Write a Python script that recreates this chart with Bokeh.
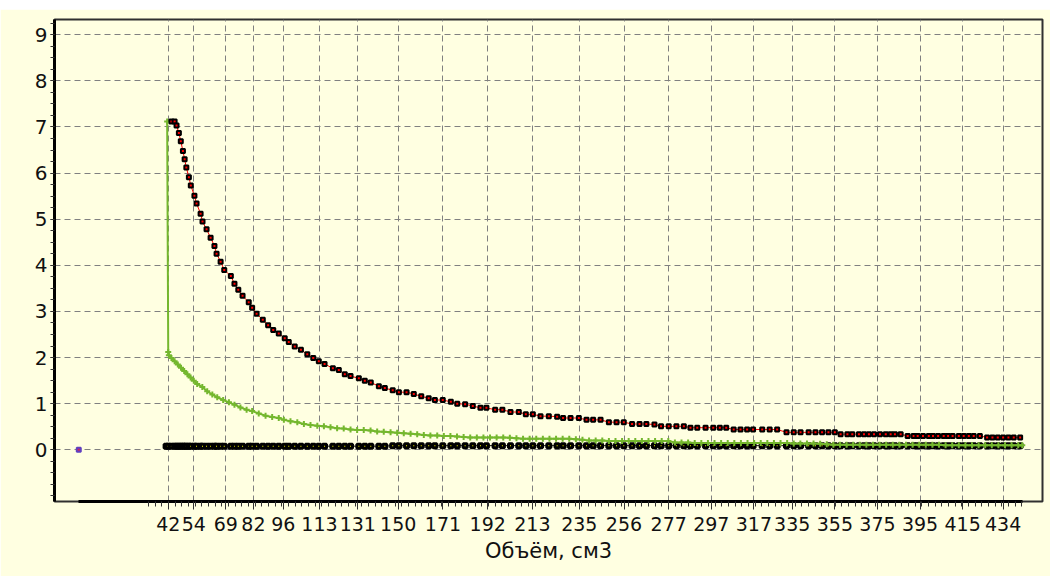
from bokeh.plotting import figure
from bokeh.models import FixedTicker, LinearAxis, Range1d, Grid, Div
from bokeh.layouts import column
from bokeh.embed import file_html
from bokeh.resources import INLINE
import numpy as np

# ---------------- data ----------------
x_ticks = [42, 54, 69, 82, 96, 113, 131, 150, 171, 192, 213, 235, 256, 277,
           297, 317, 335, 355, 375, 395, 415, 434]
y_ticks = [0, 1, 2, 3, 4, 5, 6, 7, 8, 9]
x_title = "Объём, см3"

# red series (expansion curve), volume / pressure
red_v = [43.5, 45.0, 45.9, 47.0, 47.9, 48.9, 49.7, 50.5, 51.7, 52.6,
         54.3, 55.3, 57.2, 58.1, 60.0, 61.9, 63.7, 64.7, 66.6, 68.3,
         71.4, 73.1, 74.9, 76.9, 79.8, 81.4, 83.5, 86.4, 88.9, 91.3,
         93.9, 96.7, 98.6, 101.4, 104.3, 107.3, 110.1, 112.7, 115.4, 119.3,
         122.1, 124.9, 127.6, 131.5, 134.3, 137.1, 140.9, 143.7, 147.4, 150.3,
         153.9, 157.3, 160.8, 164.3, 167.2, 170.9, 174.7, 177.7, 181.4, 185.0,
         188.6, 191.4, 195.5, 198.9, 202.7, 206.6, 209.9, 213.2, 216.8, 220.7,
         224.6, 227.4, 230.9, 234.8, 238.4, 241.5, 245.0, 248.9, 252.5, 255.9,
         259.8, 263.3, 266.5, 270.3, 273.4, 277.0, 280.6, 284.1, 287.2, 290.4,
         294.3, 297.9, 301.0, 304.0, 307.5, 310.7, 313.8, 316.6, 320.9, 324.4,
         327.9, 332.3, 335.7, 338.9, 342.7, 345.9, 349.0, 352.0, 355.0, 357.7,
         360.9, 363.2, 366.3, 368.7, 371.0, 373.4, 376.2, 378.9, 381.2, 383.2,
         385.9, 389.2, 392.0, 393.9, 396.4, 399.1, 401.1, 403.5, 406.1, 408.2,
         410.3, 413.2, 415.5, 417.9, 420.2, 423.1, 426.5, 429.0, 431.5, 434.0,
         436.5, 439.0, 442.0]
red_p = [7.12, 7.12, 7.03, 6.87, 6.69, 6.48, 6.30, 6.12, 5.91, 5.73,
         5.51, 5.34, 5.12, 4.95, 4.78, 4.60, 4.42, 4.25, 4.08, 3.90,
         3.77, 3.60, 3.47, 3.34, 3.20, 3.08, 2.95, 2.82, 2.70, 2.60,
         2.52, 2.42, 2.34, 2.24, 2.17, 2.07, 1.99, 1.92, 1.86, 1.77,
         1.73, 1.64, 1.60, 1.55, 1.50, 1.46, 1.38, 1.34, 1.29, 1.25,
         1.25, 1.21, 1.16, 1.12, 1.08, 1.08, 1.04, 1.00, 0.99, 0.95,
         0.91, 0.91, 0.87, 0.87, 0.82, 0.82, 0.77, 0.77, 0.73, 0.73,
         0.72, 0.69, 0.69, 0.69, 0.65, 0.65, 0.65, 0.60, 0.60, 0.60,
         0.56, 0.56, 0.56, 0.55, 0.51, 0.51, 0.51, 0.51, 0.48, 0.48,
         0.48, 0.48, 0.48, 0.48, 0.44, 0.44, 0.44, 0.44, 0.44, 0.44,
         0.44, 0.38, 0.38, 0.38, 0.38, 0.38, 0.38, 0.38, 0.38, 0.34,
         0.34, 0.34, 0.34, 0.34, 0.34, 0.34, 0.34, 0.34, 0.34, 0.34,
         0.34, 0.30, 0.30, 0.30, 0.30, 0.30, 0.30, 0.30, 0.30, 0.30,
         0.30, 0.30, 0.30, 0.30, 0.30, 0.30, 0.27, 0.27, 0.27, 0.27,
         0.27, 0.27, 0.27]

# green series (theoretical curve)
green_v = [41.5, 42.0, 42.3, 43.5, 45.0, 46.5, 48.0, 49.5, 51.0, 52.5,
           54.0, 55.6, 58.0, 60.3, 62.7, 65.0, 67.8, 70.5, 73.1, 75.9,
           78.8, 81.4, 84.5, 87.7, 90.8, 93.9, 96.3, 99.4, 102.6, 105.7,
           108.8, 112.0, 115.1, 118.2, 121.3, 124.4, 127.6, 130.7, 133.8, 137.0,
           140.1, 143.2, 146.4, 149.5, 152.6, 155.8, 158.9, 162.0, 165.1, 168.3,
           171.4, 174.5, 177.6, 180.7, 183.8, 186.9, 190.0, 193.1, 196.2, 199.3,
           202.4, 205.5, 208.6, 211.7, 214.8, 217.9, 221.0, 224.1, 227.2, 230.3,
           233.4, 236.5, 239.6, 242.7, 245.8, 248.9, 252.0, 255.1, 258.2, 261.3,
           264.4, 267.5, 270.6, 273.7, 276.8, 279.9, 283.0, 286.1, 289.2, 292.3,
           295.4, 298.5, 301.6, 304.7, 307.8, 310.9, 314.0, 317.1, 320.2, 323.3,
           326.4, 329.5, 332.6, 335.7, 338.8, 341.9, 345.0, 348.1, 351.2, 354.3,
           357.4, 360.5, 363.6, 366.7, 369.8, 372.9, 376.0, 379.1, 382.2, 385.3,
           388.4, 391.5, 394.6, 397.7, 400.8, 403.9, 407.0, 410.1, 413.2, 416.3,
           419.4, 422.5, 425.6, 428.7, 431.8, 434.9, 438.0, 441.1, 443.0]
green_p = [7.12, 2.12, 2.05, 1.99, 1.92, 1.85, 1.78, 1.71, 1.64, 1.57,
           1.50, 1.43, 1.36, 1.27, 1.20, 1.14, 1.08, 1.03, 0.98, 0.92,
           0.87, 0.84, 0.79, 0.74, 0.71, 0.69, 0.65, 0.62, 0.60, 0.56,
           0.54, 0.52, 0.51, 0.49, 0.47, 0.46, 0.44, 0.43, 0.43, 0.42,
           0.40, 0.39, 0.38, 0.37, 0.36, 0.35, 0.34, 0.32, 0.31, 0.31,
           0.30, 0.30, 0.29, 0.28, 0.27, 0.27, 0.27, 0.27, 0.27, 0.27,
           0.26, 0.25, 0.24, 0.24, 0.24, 0.24, 0.24, 0.24, 0.24, 0.24,
           0.23, 0.22, 0.20, 0.20, 0.20, 0.19, 0.19, 0.19, 0.19, 0.19,
           0.19, 0.19, 0.19, 0.19, 0.19, 0.16, 0.16, 0.16, 0.15, 0.15,
           0.15, 0.15, 0.15, 0.15, 0.15, 0.15, 0.15, 0.15, 0.15, 0.15,
           0.15, 0.15, 0.15, 0.14, 0.14, 0.14, 0.14, 0.13, 0.12, 0.11,
           0.11, 0.11, 0.11, 0.11, 0.11, 0.11, 0.11, 0.11, 0.11, 0.11,
           0.11, 0.11, 0.11, 0.11, 0.11, 0.11, 0.10, 0.10, 0.10, 0.10,
           0.10, 0.10, 0.10, 0.10, 0.10, 0.10, 0.10, 0.10, 0.10]

# black series (near-zero line), sampled at the same volumes as the red one
black_v = [41.0, 42.0] + red_v
black_p = [0.08, 0.08, 0.08, 0.08, 0.08, 0.08, 0.08, 0.08, 0.08, 0.08,
           0.08, 0.08, 0.08, 0.08, 0.08, 0.08, 0.08, 0.08, 0.08, 0.08,
           0.08, 0.08, 0.08, 0.08, 0.08, 0.08, 0.08, 0.08, 0.08, 0.08,
           0.08, 0.08, 0.08, 0.08, 0.08, 0.08, 0.08, 0.08, 0.08, 0.08,
           0.08, 0.08, 0.08, 0.08, 0.08, 0.08, 0.08, 0.08, 0.08, 0.08,
           0.09, 0.09, 0.09, 0.09, 0.09, 0.09, 0.09, 0.09, 0.09, 0.09,
           0.09, 0.09, 0.09, 0.09, 0.09, 0.09, 0.09, 0.09, 0.09, 0.09,
           0.09, 0.09, 0.09, 0.09, 0.09, 0.09, 0.09, 0.09, 0.09, 0.09,
           0.09, 0.09, 0.09, 0.09, 0.09, 0.09, 0.09, 0.09, 0.09, 0.09,
           0.09, 0.09, 0.09, 0.09, 0.09, 0.09, 0.09, 0.09, 0.09, 0.09,
           0.09, 0.09, 0.09, 0.09, 0.09, 0.09, 0.09, 0.09, 0.09, 0.09,
           0.09, 0.09, 0.09, 0.09, 0.09, 0.09, 0.09, 0.09, 0.09, 0.09,
           0.09, 0.09, 0.09, 0.09, 0.09, 0.09, 0.09, 0.09, 0.09, 0.09,
           0.09, 0.09, 0.09, 0.09, 0.09, 0.09, 0.09, 0.09, 0.09, 0.09,
           0.09, 0.09, 0.09, 0.09, 0.09]

# single point at the origin
origin_v = [0.0]
origin_p = [0.0]

# ---------------- styling ----------------
BG = "#FFFFE1"
FONT = "DejaVu Sans"
TXT = "#111111"
GREEN = "#74B72E"

p = figure(width=1050, height=567, output_backend="svg", toolbar_location=None,
           x_range=Range1d(-11.4, 452.5), y_range=Range1d(-1.12, 9.33),
           x_axis_type=None, y_axis_type=None,
           min_border_left=54, min_border_right=8, min_border_top=10,
           min_border_bottom=75)
p.background_fill_color = BG
p.border_fill_color = BG
p.outline_line_color = "#303030"
p.outline_line_width = 2

x_minor = np.arange(32.8, 444.0, 3.13).tolist()
y_minor = np.arange(-1.0, 9.3, 0.25).tolist()

all_v = origin_v + black_v + green_v + red_v
xaxis = LinearAxis(ticker=FixedTicker(ticks=x_ticks, minor_ticks=x_minor),
                   bounds=(min(all_v), max(all_v)))
xaxis.axis_line_width = 3
xaxis.axis_line_color = "black"
xaxis.major_tick_out = 8
xaxis.major_tick_in = 0
xaxis.minor_tick_out = 5
xaxis.minor_tick_in = 0
xaxis.major_tick_line_color = "#333333"
xaxis.minor_tick_line_color = "#333333"
xaxis.major_label_standoff = 7
xaxis.major_label_text_font = FONT
xaxis.major_label_text_font_size = "19px"
xaxis.major_label_text_color = TXT
xaxis.axis_label = x_title
xaxis.axis_label_text_font = FONT
xaxis.axis_label_text_font_size = "21px"
xaxis.axis_label_text_font_style = "normal"
xaxis.axis_label_text_color = TXT
xaxis.axis_label_standoff = 5
p.add_layout(xaxis, "below")

yaxis = LinearAxis(ticker=FixedTicker(ticks=y_ticks, minor_ticks=y_minor))
yaxis.axis_line_width = 3
yaxis.axis_line_color = "black"
yaxis.major_tick_out = 4
yaxis.major_tick_in = 0
yaxis.minor_tick_out = 4
yaxis.minor_tick_in = 0
yaxis.major_tick_line_color = "#333333"
yaxis.minor_tick_line_color = "#333333"
yaxis.major_label_standoff = 3
yaxis.major_label_text_font = FONT
yaxis.major_label_text_font_size = "20px"
yaxis.major_label_text_color = TXT
p.add_layout(yaxis, "left")

for dim, ax in ((0, xaxis), (1, yaxis)):
    g = Grid(dimension=dim, ticker=ax.ticker)
    g.grid_line_color = "#808080"
    g.grid_line_width = 1
    g.grid_line_dash = "6 4"
    p.add_layout(g)

# black series
p.line(black_v, black_p, line_color="black", line_width=1)
p.scatter(black_v, black_p, marker="square", size=4, fill_color="#FFFF00",
          line_color="black", line_width=3)

# green series
p.line(green_v, green_p, line_color=GREEN, line_width=2)
p.scatter(green_v, green_p, marker="cross", size=6, line_color=GREEN, line_width=2)

# red series
p.line(red_v, red_p, line_color="#FF0000", line_width=1)
p.scatter(red_v, red_p, marker="square", size=4, fill_color="#FF0000",
          line_color="black", line_width=2)

# origin point
p.scatter(origin_v, origin_p, marker="square", size=4, fill_color="#D02060",
          line_color="#6040C0", line_width=2)

# thin white strip with window-frame lines above the chart
strip = Div(
    text=('<div style="position:relative;width:1050px;height:9px;background:#ffffff;overflow:hidden;">'
          '<div style="position:absolute;left:7px;top:7px;width:626px;height:2px;background:#707070;"></div>'
          '<div style="position:absolute;left:696px;top:7px;width:162px;height:2px;background:#707070;"></div>'
          '</div>'),
    width=1050, height=9, margin=0)

layout = column(strip, p, spacing=0, margin=0)
open("out.html", "w").write(file_html(layout, INLINE))
